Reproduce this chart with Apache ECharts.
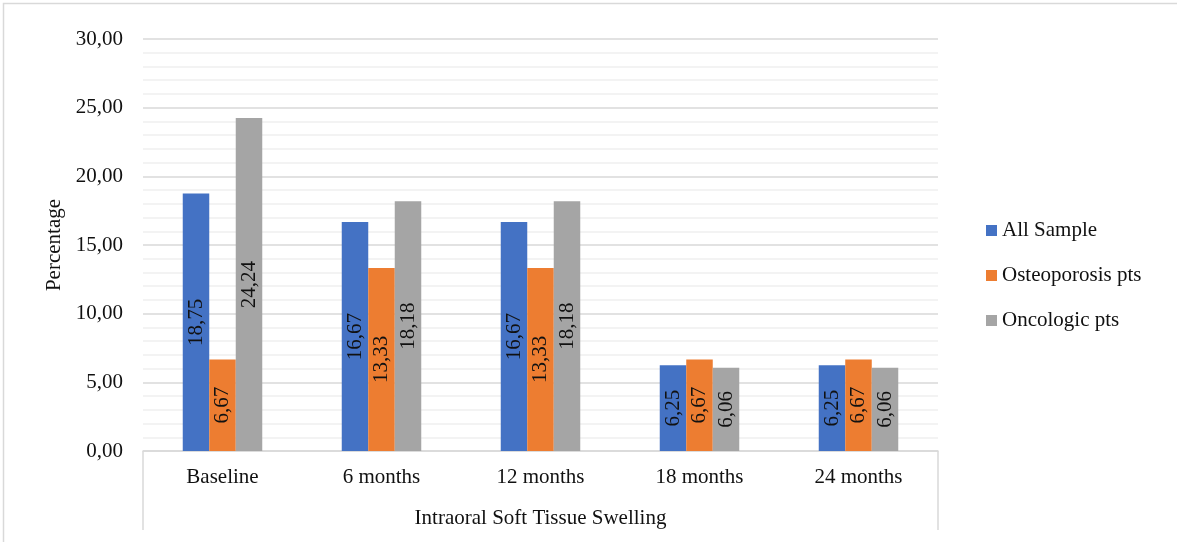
<!DOCTYPE html>
<html>
<head>
<meta charset="utf-8">
<script src="https://cdn.jsdelivr.net/npm/echarts@6/dist/echarts.min.js"></script>
<style>html,body{margin:0;padding:0;background:#fff;}#c{width:1177px;height:542px;}</style>
</head>
<body>
<div id="c"></div>
<script>
const categories = ['Baseline', '6 months', '12 months', '18 months', '24 months'];
const seriesNames = ['All Sample', 'Osteoporosis pts', 'Oncologic pts'];
const allSample = [18.75, 16.67, 16.67, 6.25, 6.25];
const osteoporosis = [6.67, 13.33, 13.33, 6.67, 6.67];
const oncologic = [24.24, 18.18, 18.18, 6.06, 6.06];
const colors = ['#4472C4', '#ED7D31', '#A5A5A5'];

const FONT = '"Liberation Serif", "Times New Roman", serif';
const fmt = v => Number(v).toFixed(2).replace('.', ',');

const chart = echarts.init(document.getElementById('c'), null, {renderer: 'canvas'});

function mkSeries(name, data, color) {
  return {
    name: name,
    type: 'bar',
    data: data,
    barGap: '0%',
    barCategoryGap: '50%',
    itemStyle: {color: color},
    label: {
      show: true,
      position: 'inside',
      rotate: 90,
      formatter: p => fmt(p.value),
      fontFamily: FONT,
      fontSize: 21,
      color: '#111'
    }
  };
}

chart.setOption({
  animation: false,
  backgroundColor: '#fff',
  color: colors,
  textStyle: {fontFamily: FONT, color: '#111'},
  graphic: [{
    type: 'rect',
    shape: {x: 3.5, y: 3.5, width: 1300, height: 800},
    style: {fill: 'none', stroke: '#d9d9d9', lineWidth: 1.5},
    silent: true,
    z: -1
  }],
  grid: {left: 143, right: 239, top: 39, bottom: 91, containLabel: false},
  legend: {
    orient: 'vertical',
    left: 986,
    top: 220,
    padding: 0,
    itemWidth: 11,
    itemHeight: 11,
    itemGap: 24,
    icon: 'rect',
    data: seriesNames,
    textStyle: {fontFamily: FONT, fontSize: 21, color: '#111'}
  },
  xAxis: {
    type: 'category',
    data: categories,
    name: 'Intraoral Soft Tissue Swelling',
    nameLocation: 'middle',
    nameGap: 57,
    nameTextStyle: {fontFamily: FONT, fontSize: 21, color: '#111'},
    axisLine: {show: true, lineStyle: {color: '#d9d9d9', width: 1.5}},
    axisTick: {show: true, length: 79, interval: function (i) { return i === 0; }, lineStyle: {color: '#d9d9d9', width: 1.5}},
    axisLabel: {fontFamily: FONT, fontSize: 21, color: '#111', margin: 16},
    splitLine: {show: false}
  },
  yAxis: {
    type: 'value',
    min: 0,
    max: 30,
    interval: 5,
    name: 'Percentage',
    nameLocation: 'middle',
    nameGap: 72,
    nameRotate: 90,
    nameTextStyle: {fontFamily: FONT, fontSize: 21, color: '#111'},
    axisLine: {show: false},
    axisTick: {show: false},
    axisLabel: {fontFamily: FONT, fontSize: 21, color: '#111', margin: 20, formatter: v => fmt(v)},
    splitLine: {show: true, lineStyle: {color: '#d9d9d9', width: 1.5}},
    minorTick: {show: false, splitNumber: 5},
    minorSplitLine: {show: true, lineStyle: {color: '#f0f0f0', width: 1.5}}
  },
  series: [
    mkSeries(seriesNames[0], allSample, colors[0]),
    mkSeries(seriesNames[1], osteoporosis, colors[1]),
    mkSeries(seriesNames[2], oncologic, colors[2])
  ]
});
</script>
</body>
</html>
